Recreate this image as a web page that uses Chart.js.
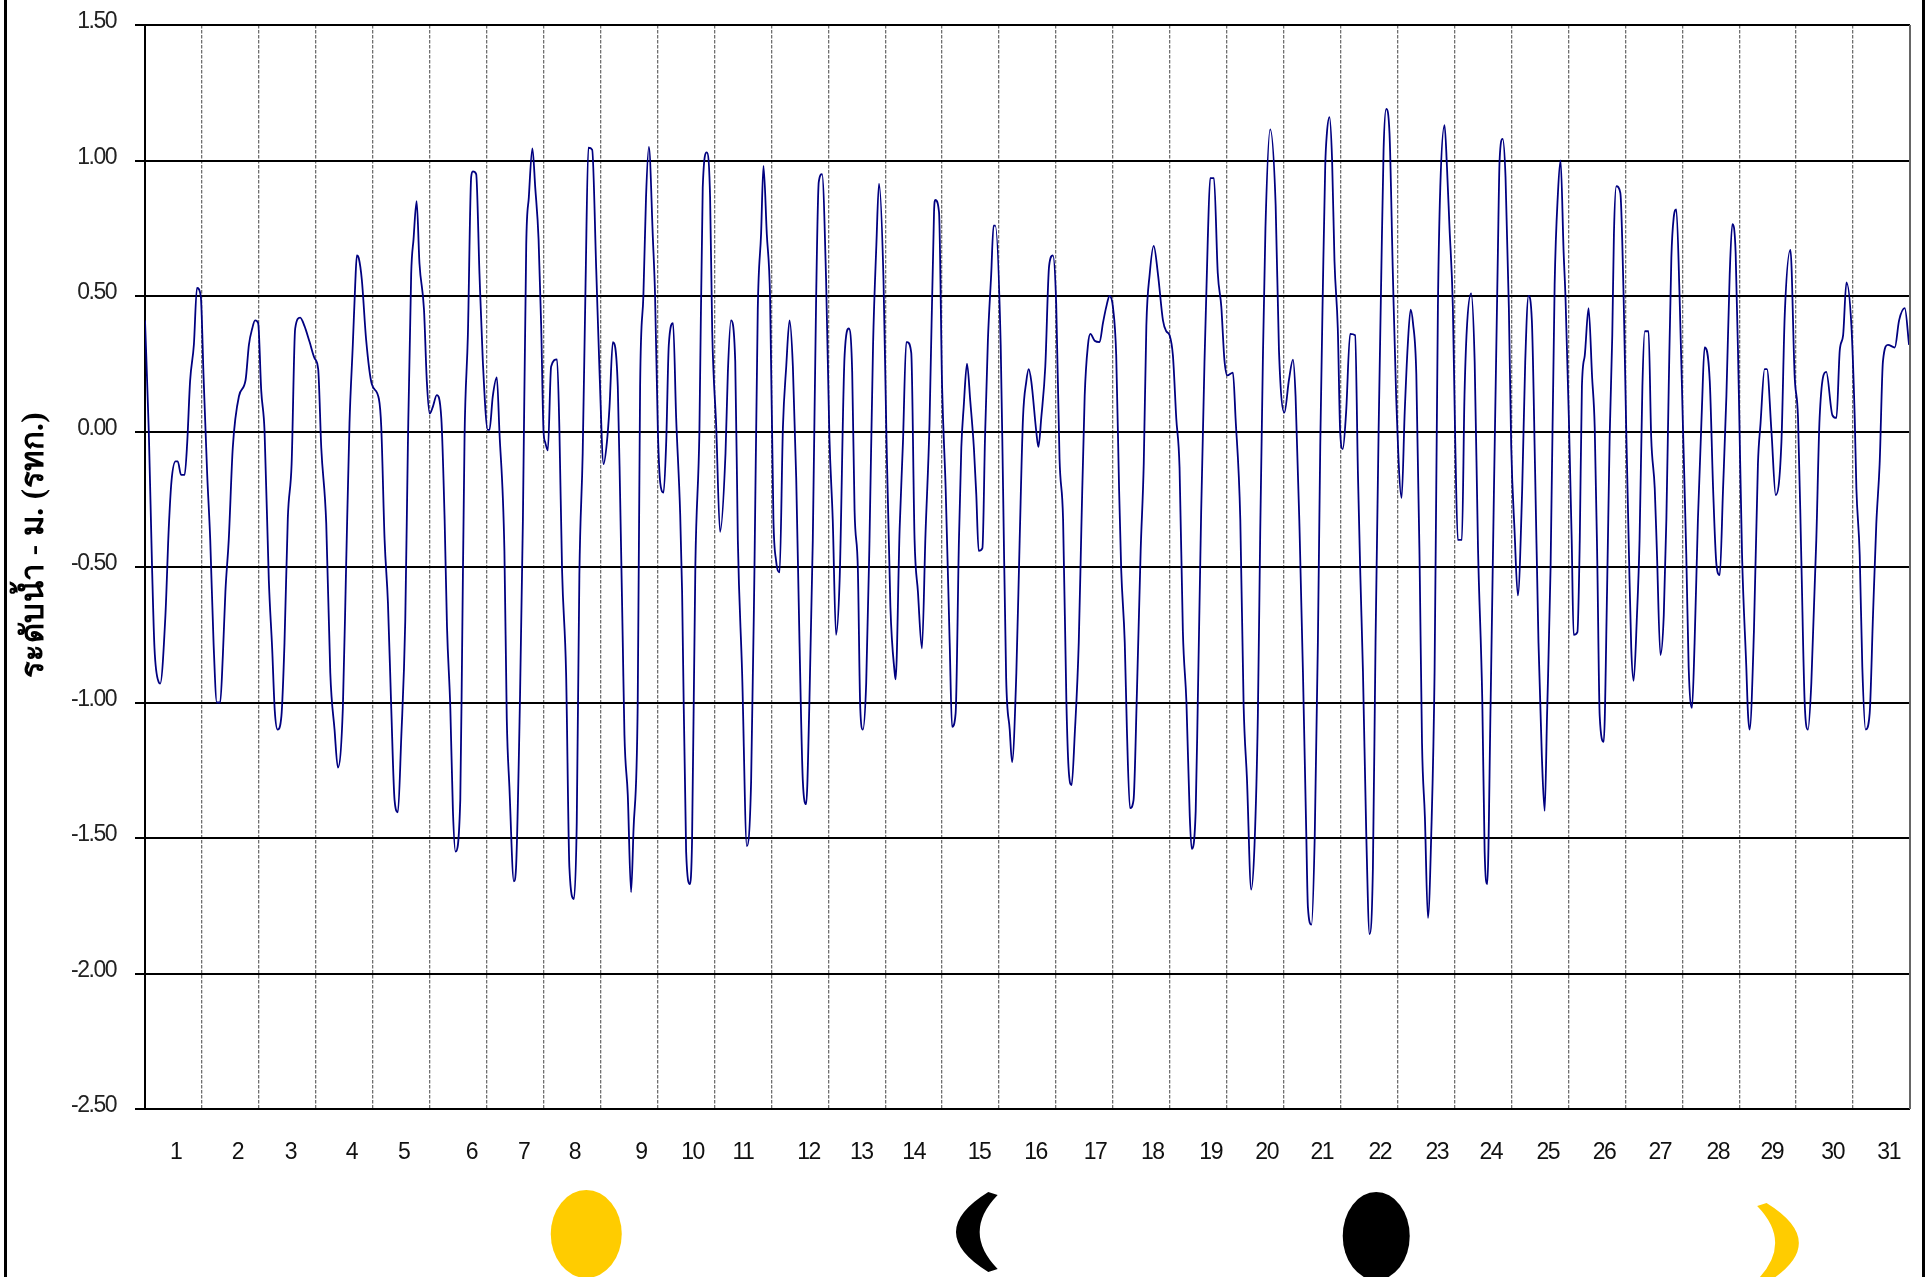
<!DOCTYPE html>
<html>
<head>
<meta charset="utf-8">
<title>ระดับน้ำ</title>
<script src="https://cdn.jsdelivr.net/npm/chart.js@4"></script>
<style>
  html, body { margin: 0; padding: 0; background: #fff; overflow: hidden; }
  #chart { display: block; filter: blur(0.7px); }
</style>
</head>
<body>
<canvas id="chart" width="1927" height="1277"></canvas>
<script>
// hour of the month at every visible bend of the line
const hours = [
  0,1.6,3,4,5.8,6.4,8.6,10,11.2,12.9,13.8,15.2,16.7,17.8,19,20.6,21.9,23.5,
  24.7,26.2,27.5,28.9,30.3,31.7,32.8,33.9,35.3,37,39.6,42.4,43.8,45.2,46.4,47.7,
  49,50.4,52.2,53.6,54.7,55.9,57.5,58.8,60.2,61.8,63.3,65.4,67.2,69.4,71.5,
  73,74.3,76.4,78.1,79.9,81.3,83.4,84.8,86.2,87.6,88.6,89.3,90.1,91.4,93.2,95.6,
  98.6,99.6,101,102.4,103.8,105.2,106.6,108,109.7,110.8,112.2,113.2,114.5,115.7,117.6,118.8,
  120,121.3,123,124.9,126.3,127.3,128.7,129.8,130.9,132.9,133.7,134.7,136.1,137.5,138.2,139.6,141,142.4,144.5,
  145.2,146.6,148.3,149.4,151.5,152.5,153.6,155.5,156.4,158.1,159.3,160.7,161.8,163.3,164.5,165.9,167,
  168,168.7,169.8,171.2,173.7,174.7,175.8,177.5,178.9,180.8,182,183.1,184.5,185.7,186.9,188.5,190.2,191.6,
  193.3,194.7,195.8,197.2,199.3,200.3,201.4,202.1,203.5,204.9,205.9,207.7,208.7,210.1,211.2,212.4,214.1,215,
  216.2,217.2,218.6,219.7,220.8,222.6,223.9,225.6,226.4,228.1,229.7,230.6,232,233.7,235.1,236.8,238.2,239.1,
  240.8,242.4,244.7,245.7,247,248.8,249.9,251.7,253.7,255.5,256.9,258.3,259.7,260.7,262.1,263.5,
  264.9,266,267.5,268.9,270.3,271.7,273.1,274.5,275.9,277.3,278.7,280.1,281.5,282.9,284,285.4,287.1,
  288.5,289.9,291.3,292.8,294.9,296.7,298.1,299.1,300.5,301.5,302.6,304,305.4,306.9,308.3,309.4,311.3,
  312.5,314.2,316,316.4,318.1,319.5,320.9,321.3,323,324.4,325.8,327.5,329,330.7,332.6,333.1,334.7,
  336,337.5,339.2,340.2,341.7,343.1,344.1,345.1,346.5,347.9,349.4,350.4,351.4,353,354.1,355.3,356.7,357.7,358.4,
  360.7,361.7,363,364.5,365.5,367.3,368.7,370.1,371.5,372.5,373.6,375.7,376.6,377.8,379.5,381.1,382.7,
  384.1,385.5,387,388.4,389.3,390.6,391.9,393.6,394.7,396.1,397.5,398.5,400.3,402.4,403.8,405.2,406.6,
  408,409.4,410.6,411.5,413,413.9,415.2,416.7,418.1,419.7,421,422.1,423.5,425.2,427,429.1,430.5,
  431.9,433.3,434.7,436.1,437.5,439,440.4,441.2,442.9,443.8,445.2,446.6,448,449,450.6,452.2,453.7,455,
  456.2,458.6,459.7,461.7,463.1,464.5,466.3,467.7,469.1,470.1,471.2,472.3,474.3,476.6,478,
  480.3,482.2,483.9,485,486.7,488.1,489.5,490.2,491.7,493.1,494.4,495.4,496.5,497.5,498.2,499.3,500.4,501.4,
  502.8,503.8,504.9,506.3,508,510.1,511.3,512.3,513.4,514.8,516.2,517.6,518.7,520,521.1,522.1,523.2,524.6,
  526,527.4,529.7,531,532.3,533.5,534.5,535.9,537.3,538.3,539.5,540.8,542.2,543.6,545,546,547.8,548.8,549.9,
  551.3,552.3,553.4,555.1,556.2,557.2,559,560.5,561.9,563.7,564.7,565.8,567.2,568.5,570.3,571,572.3,573.5,574.9,
  575.9,577.3,578.7,580.5,581.8,583.2,584.6,586,587.4,588.8,590,591,592.5,594.2,595.6,596.7,598,598.8,
  600.2,601.4,602.2,603.8,604.8,605.7,606.9,608.5,610,611.1,612.2,613.2,614.9,616.3,617.4,618.5,619.2,620.2,621.9,
  623.3,624.4,625.5,626.5,627.5,628.9,630,631.2,632.2,633.8,634.9,636.4,637.3,638.8,640.2,641.3,642.3,643.4,644.4,645.5,646.9,
  648.3,649.7,650.7,652.1,653.2,654.6,656.3,657.4,659.6,661,662.4,663.8,665.2,666.6,668,669.1,670.5,
  671.8,673.2,675,675.7,676.4,678.2,679.9,681,682.7,683.7,685.6,687.4,689.8,691.2,693.6,695.4,
  696.8,698.2,699.6,701,702.4,704.5,705.9,708.7,711.3,713,714.4,715.8,717.2,719.3,
  720.7,721.4,722.8,723.9,725.3,727,728.4,729.8,731.2,732.6,734.7,737.6,739.4,741.8,743.6
];
// water level in metres (MSL), same order as hours
const levels = [
  0.41,0,-0.51,-0.8,-0.925,-0.93,-0.68,-0.36,-0.18,-0.11,-0.11,-0.16,-0.16,-0.04,0.185,0.32,0.53,0.5,
  0.2,-0.155,-0.4,-0.78,-1,-1,-0.83,-0.59,-0.4,-0.06,0.13,0.19,0.32,0.38,0.41,0.4,
  0.15,0,-0.55,-0.8,-1.03,-1.1,-1.05,-0.78,-0.32,-0.12,0.38,0.42,0.39,0.33,0.27,
  0.23,-0.06,-0.34,-0.89,-1.1,-1.24,-1.02,-0.49,0.03,0.32,0.54,0.65,0.64,0.56,0.34,0.175,
  0.12,0.015,-0.4,-0.63,-1.02,-1.36,-1.405,-1.135,-0.7,-0.06,0.58,0.71,0.85,0.62,0.45,0.185,
  0.066,0.09,0.134,0.05,-0.325,-0.72,-1.02,-1.4,-1.55,-1.36,-0.78,-0.02,0.355,0.94,0.96,0.95,0.58,0.26,0.006,
  0.006,0.13,0.2,0,-0.44,-1.06,-1.31,-1.66,-1.61,-0.97,-0.325,0.69,0.865,1.045,0.9,0.71,0.39,
  0,-0.04,-0.07,0.24,0.266,0,-0.51,-0.89,-1.61,-1.725,-1.44,-0.53,-0.08,0.54,1.047,1.04,0.6,0.22,
  -0.12,-0.04,0.09,0.33,0.166,-0.25,-0.78,-1.12,-1.34,-1.7,-1.475,-1,0.166,0.505,0.865,1.05,0.71,0.505,
  0,-0.19,-0.225,-0.04,0.32,0.4,0.05,-0.305,-0.59,-1.55,-1.67,-1.51,-0.49,0,0.9,1.03,0.865,0.37,
  0.015,-0.37,-0.08,0.22,0.41,0.26,-0.4,-0.89,-1.53,-1.29,-0.51,0.45,0.73,0.98,0.73,0.49,
  -0.325,-0.475,-0.52,0.015,0.24,0.41,0.24,-0.17,-0.78,-1.29,-1.375,-0.985,-0.4,0.49,0.92,0.95,0.56,
  -0.02,-0.325,-0.75,-0.55,0.28,0.38,0.22,-0.29,-0.51,-1.02,-1.1,-0.93,-0.4,0.32,0.69,0.915,0.56,
  0,-0.645,-0.89,-0.915,-0.36,-0.04,0.33,0.33,0.29,-0.4,-0.59,-0.8,-0.38,0.03,0.81,0.855,0.81,
  0.166,-0.21,-0.78,-1.09,-1.04,-0.4,-0.06,0.09,0.25,0.11,-0.06,-0.23,-0.44,-0.43,-0.02,0.335,0.58,0.76,0.76,
  0.32,-0.21,-0.91,-1.1,-1.22,-0.89,-0.4,0.05,0.185,0.23,0.185,0,-0.057,0.05,0.24,0.61,0.65,
  0.47,-0.1,-0.325,-1,-1.24,-1.305,-1.12,-0.78,-0.36,0.13,0.32,0.36,0.335,0.33,0.4,0.46,0.5,
  0.46,0.28,-0.21,-0.51,-0.78,-1.1,-1.39,-1.36,-0.97,-0.44,-0.12,0.39,0.58,0.685,0.58,0.41,0.37,
  0.355,0.28,0.05,-0.135,-0.74,-1,-1.42,-1.54,-1.4,-0.99,-0.3,0.255,0.71,0.935,0.935,0.585,0.46,0.265,
  0.207,0.217,0.05,-0.325,-1.01,-1.28,-1.69,-1.525,-1.05,-0.37,0.255,0.75,1.115,0.835,0.3,
  0.07,0.19,0.265,0.13,-0.37,-0.885,-1.48,-1.755,-1.82,-1.485,-0.78,-0.055,0.525,0.98,1.1,1.16,1,0.63,
  0.38,0,-0.065,0.07,0.36,0.355,-0.16,-0.53,-0.885,-1.485,-1.855,-1.61,-0.78,0,0.565,1.04,1.19,1.1,
  0.585,0.13,-0.245,0.07,0.32,0.45,0.4,0.21,-0.49,-1.15,-1.42,-1.795,-1.485,-0.885,0.46,0.9,1.13,0.98,0.75,
  0.46,-0.035,-0.4,-0.4,0.13,0.38,0.51,0.255,-0.43,-0.99,-1.55,-1.67,-1.01,-0.285,0.67,1,1.08,0.94,0.46,
  -0.055,-0.365,-0.605,-0.22,0.255,0.5,0.41,-0.16,-0.78,-1.195,-1.4,-1.05,-0.5,0.54,0.88,1,0.66,0.49,
  0.05,-0.4,-0.75,-0.74,-0.4,0.166,0.28,0.455,0.2,0.015,-0.49,-1.05,-1.145,-0.59,-0.02,0.355,0.73,0.905,0.88,
  0.49,0,-0.44,-0.8,-0.92,-0.68,-0.4,0.166,0.37,0.37,-0.02,-0.21,-0.44,-0.825,-0.68,-0.325,0.166,0.64,0.79,0.82,0.49,
  0.015,-0.455,-0.87,-1.02,-0.78,-0.325,0.09,0.31,0.185,-0.21,-0.49,-0.53,-0.21,0.13,0.58,0.765,0.66,
  0.166,-0.455,-0.87,-1.04,-1.1,-0.74,-0.12,0.03,0.23,0.23,0,-0.235,-0.04,0.43,0.67,0.2,
  0.05,-0.475,-1,-1.1,-0.93,-0.4,0.05,0.22,0.06,0.05,0.3,0.355,0.55,0.39,
  0.05,-0.21,-0.455,-0.87,-1.1,-1.04,-0.68,-0.34,-0.12,0.26,0.32,0.31,0.41,0.455,0.32
];
// the day numbers under the chart do not sit evenly, they follow the hour below
const dayLabels = ['1','2','3','4','5','6','7','8','9','10','11','12','13','14','15','16',
  '17','18','19','20','21','22','23','24','25','26','27','28','29','30','31'];
const dayLabelHours = [12.9,39,61.3,87,109,137.6,159.6,181,209,230.8,252,279.7,301.9,324,351.6,375.4,
  400.5,424.6,449.2,472.8,496,520.5,544.5,567.3,591.3,615,638.5,663,685.7,711.4,735];
const moonPhases = ['full', 'waning', 'new', 'waxing'];
const moonHours = [186, 351, 519, 688];
const yTitle = 'ระดับน้ำ - ม. (รทก.)';

const points = hours.map((h, i) => ({ x: h, y: levels[i] }));

const pagePlugin = {
  id: 'page',
  beforeDraw(chart) {
    // the tick labels are squeezed in the original, no narrow font here
    chart.ctx.letterSpacing = '-1.5px';
  },
  afterDraw(chart) {
    const ctx = chart.ctx;
    const area = chart.chartArea;
    const xs = chart.scales.x;
    ctx.save();
    // outer frame, only the two sides are in the photo
    ctx.fillStyle = '#000';
    ctx.fillRect(4, 0, 3, 1277);
    ctx.fillRect(1922, 0, 3, 1277);
    // right edge of the plot
    ctx.fillStyle = '#666';
    ctx.fillRect(area.right - 1, area.top, 2, area.bottom - area.top);
    // axis title
    ctx.letterSpacing = '0.5px';
    ctx.translate(35, 545);
    ctx.rotate(-Math.PI / 2);
    ctx.font = 'bold 31px "Liberation Serif", "Noto Sans", serif';
    ctx.fillStyle = '#000';
    ctx.textAlign = 'center';
    ctx.textBaseline = 'middle';
    ctx.fillText(yTitle, 0, 0);
    ctx.restore();
    // moon phases
    moonPhases.forEach((phase, i) => {
      const cx = xs.getPixelForValue(moonHours[i]);
      ctx.save();
      if (phase === 'full' || phase === 'new') {
        ctx.fillStyle = phase === 'full' ? '#ffcc00' : '#000';
        ctx.beginPath();
        ctx.ellipse(cx, phase === 'full' ? 1234 : 1236, phase === 'full' ? 35.5 : 33.5, 44, 0, 0, Math.PI * 2);
        ctx.fill();
      } else {
        const dir = phase === 'waning' ? 1 : -1;
        const cy = phase === 'waning' ? 1232 : 1243;
        ctx.fillStyle = phase === 'waning' ? '#000' : '#ffcc00';
        ctx.beginPath();
        ctx.moveTo(cx + 10.6 * dir, cy - 40);
        ctx.lineTo(cx + 20 * dir, cy - 37);
        ctx.quadraticCurveTo(cx - 16 * dir, cy, cx + 20 * dir, cy + 37);
        ctx.lineTo(cx + 10.6 * dir, cy + 40);
        ctx.quadraticCurveTo(cx - 54 * dir, cy, cx + 10.6 * dir, cy - 40);
        ctx.fill();
      }
      ctx.restore();
    });
  }
};

new Chart(document.getElementById('chart').getContext('2d'), {
  type: 'line',
  data: {
    datasets: [{
      label: 'ระดับน้ำ',
      data: points,
      borderColor: '#000080',
      borderWidth: 1.8,
      pointRadius: 0,
      cubicInterpolationMode: 'monotone',
      fill: false
    }]
  },
  options: {
    responsive: false,
    animation: false,
    layout: { padding: { top: 25, right: 17, bottom: 0, left: 0 } },
    plugins: { legend: { display: false }, tooltip: { enabled: false } },
    scales: {
      x: {
        type: 'linear',
        position: 'bottom',
        min: 0,
        max: 744,
        weight: 0,
        ticks: { stepSize: 24, display: false },
        grid: {
          color: ctx => (ctx.tick.value === 0 || ctx.tick.value === 744 ? 'transparent' : '#707070'),
          lineWidth: 1.3,
          drawTicks: false
        },
        border: { display: false, dash: [3.5, 1.5] },
        afterFit(scale) { scale.height = 0; scale.paddingLeft = 0; scale.paddingRight = 0; }
      },
      days: {
        type: 'linear',
        position: 'bottom',
        min: 0,
        max: 744,
        weight: 1,
        grid: { display: false },
        border: { display: false },
        afterBuildTicks(scale) { scale.ticks = dayLabelHours.map(v => ({ value: v })); },
        ticks: {
          autoSkip: false,
          maxRotation: 0,
          padding: 22,
          color: '#111',
          font: { family: '"Liberation Sans"', size: 23 },
          callback: (v, i) => dayLabels[i]
        },
        afterFit(scale) { scale.height = 168; scale.paddingLeft = 0; scale.paddingRight = 0; }
      },
      y: {
        min: -2.5,
        max: 1.5,
        ticks: {
          stepSize: 0.5,
          padding: 19,
          labelOffset: -3,
          color: '#222',
          font: { family: '"Liberation Sans"', size: 23 },
          callback: v => v.toFixed(2)
        },
        grid: { color: '#000', lineWidth: 2, tickLength: 10 },
        border: { color: '#000', width: 2 },
        afterFit(scale) { scale.width = 145; scale.paddingTop = 0; scale.paddingBottom = 0; }
      }
    }
  },
  plugins: [pagePlugin]
});
</script>
</body>
</html>
